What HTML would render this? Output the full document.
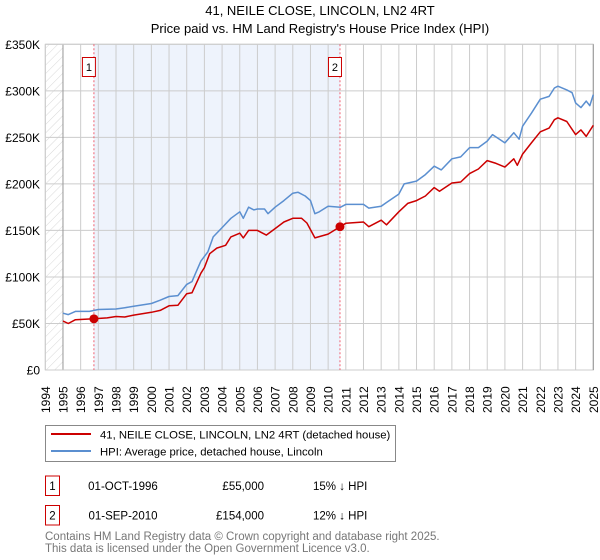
<!DOCTYPE html>
<html><head><meta charset="utf-8"><style>
body{margin:0;background:#fff;font-family:"Liberation Sans","DejaVu Sans",sans-serif;}
svg{display:block}
</style></head><body>
<svg id="chart" width="600" height="560" xmlns="http://www.w3.org/2000/svg">
<defs><pattern id="hatch" width="6" height="6" patternUnits="userSpaceOnUse" patternTransform="rotate(45)"><line x1="0" y1="0" x2="0" y2="6" stroke="#d8d8d8" stroke-width="1"/></pattern></defs>
<text x="320" y="15" text-anchor="middle" font-size="13">41, NEILE CLOSE, LINCOLN, LN2 4RT</text>
<text x="320" y="33" text-anchor="middle" font-size="13">Price paid vs. HM Land Registry's House Price Index (HPI)</text>
<g id="plot"></g>
<g>
<rect x="45.5" y="425.5" width="350" height="36" fill="#fff" stroke="#888"/>
<line x1="51" y1="434" x2="91" y2="434" stroke="#cc0000" stroke-width="2"/>
<text x="100" y="438.5" font-size="11.3">41, NEILE CLOSE, LINCOLN, LN2 4RT (detached house)</text>
<line x1="51" y1="451" x2="91" y2="451" stroke="#5b8fd0" stroke-width="2"/>
<text x="100" y="455.5" font-size="11.3">HPI: Average price, detached house, Lincoln</text>
</g>
<g font-size="11.5">
<rect x="45.5" y="476" width="14" height="19.5" fill="#fff" stroke="#cc0000"/>
<text x="52.5" y="490" text-anchor="middle">1</text>
<text x="123" y="490" text-anchor="middle">01-OCT-1996</text>
<text x="264" y="490" text-anchor="end">£55,000</text>
<text x="313" y="490">15% ↓ HPI</text>
<rect x="45.5" y="505.5" width="14" height="19.5" fill="#fff" stroke="#cc0000"/>
<text x="52.5" y="519.5" text-anchor="middle">2</text>
<text x="123" y="519.5" text-anchor="middle">01-SEP-2010</text>
<text x="264" y="519.5" text-anchor="end">£154,000</text>
<text x="313" y="519.5">12% ↓ HPI</text>
</g>
<text x="45" y="540" font-size="11.5" fill="#777">Contains HM Land Registry data © Crown copyright and database right 2025.</text>
<text x="45" y="552" font-size="11.5" fill="#777">This data is licensed under the Open Government Licence v3.0.</text>
</svg>
<script>
const yTicks=[0,50000,100000,150000,200000,250000,300000,350000];
const yTickLabels=["£0","£50K","£100K","£150K","£200K","£250K","£300K","£350K"];
const xYears=[1994,1995,1996,1997,1998,1999,2000,2001,2002,2003,2004,2005,2006,2007,2008,2009,2010,2011,2012,2013,2014,2015,2016,2017,2018,2019,2020,2021,2022,2023,2024,2025];
const hpiDates=[1995.0,1995.3,1995.7,1996.5,1997,1998,1998.5,1999,2000,2000.5,2001,2001.5,2002,2002.3,2002.5,2002.8,2003.2,2003.5,2004,2004.5,2005,2005.2,2005.5,2005.8,2006,2006.4,2006.6,2007,2007.5,2008,2008.3,2008.7,2009,2009.25,2009.5,2010,2010.7,2011,2012,2012.3,2013,2013.3,2014,2014.3,2015,2015.5,2016,2016.4,2017,2017.5,2018,2018.5,2019,2019.3,2020,2020.5,2020.8,2021,2021.5,2022,2022.5,2022.8,2023,2023.5,2023.8,2024,2024.3,2024.6,2024.8,2025];
const hpiValues=[61,59.5,63,63,65,65.5,67,68.5,71.5,75,79,80,92,95,104,117,127,143,153,163,170,163,175,172,173,173,168,175,182,190,191,187,182,168,170,176,175,178,178,174,176,180,189,200,203,210,219,215,227,229,239,239,246,253,244,255,248,262,276,291,294,303,305,301,298,287,282,289,284,296];
const propDates=[1995.0,1995.3,1995.7,1996.75,1997.5,1998,1998.5,1999,2000,2000.5,2001,2001.5,2002,2002.3,2002.8,2003,2003.3,2003.7,2004.2,2004.5,2005,2005.2,2005.5,2006,2006.5,2007,2007.5,2008,2008.5,2008.8,2009.25,2010,2010.67,2011,2012,2012.3,2013,2013.3,2014,2014.5,2015,2015.5,2016,2016.3,2017,2017.5,2018,2018.5,2019,2019.5,2020,2020.5,2020.7,2021,2021.5,2022,2022.5,2022.8,2023,2023.5,2024,2024.3,2024.6,2025];
const propValues=[52.6,50,54,55,56,57.5,57,59,62,64,69,69.5,82,83,104,110,125,131,134,143,147,142,150,150,145,152,159,163,163,158,142,146,154,157.6,159,154,161,156,170,179,182,187,196,192,201,202,211,216,225,222,218,227,220,232,244,256,260,269,271,267,253,258,251,263];
const saleDates=[1996.75,2010.67];
const salePrices=[55000,154000];
const saleLabels=["1","2"];

const X0=45.3,X1=593.3,Y0=370,Y1=44.3;
const xS=t=>X0+(t-1994)/(2025-1994)*(X1-X0);
const yS=v=>Y0-v/350000*(Y0-Y1);
const NS="http://www.w3.org/2000/svg";
const g=document.getElementById('plot');
function mk(tag,attrs,parent){const e=document.createElementNS(NS,tag);for(const k in attrs)e.setAttribute(k,attrs[k]);(parent||g).appendChild(e);return e;}

let e;
e=mk('rect',{x:xS(saleDates[0]),y:Y1,width:xS(saleDates[1])-xS(saleDates[0]),height:Y0-Y1,fill:'#eef3fc'});


e=mk('rect',{x:X0,y:Y1,width:xS(1995)-X0,height:Y0-Y1,fill:'url(#hatch)'});


yTicks.forEach((v,i)=>{
  e=mk('line',{x1:X0,x2:X1,y1:yS(v),y2:yS(v),stroke:'#ccc','stroke-width':1});
  
  
  e=mk('text',{x:40,y:yS(v)+4.5,'text-anchor':'end','font-size':12});
  e.textContent=yTickLabels[i];
  
  
});
xYears.forEach(yr=>{
  e=mk('line',{x1:xS(yr),x2:xS(yr),y1:Y1,y2:Y0,stroke:'#ccc','stroke-width':1});
  
  
  const x=xS(yr)+4.5;
  e=mk('text',{x:x,y:413,'font-size':12,transform:`rotate(-90 ${x} 413)`});
  e.textContent=String(yr);
  
  
});
e=mk('line',{x1:xS(1995),x2:xS(1995),y1:Y1,y2:Y0,stroke:'#999','stroke-width':1});


e=mk('rect',{x:X0,y:Y1,width:X1-X0,height:Y0-Y1,fill:'none',stroke:'#ccc'});


e=mk('line',{x1:X1,x2:X1,y1:Y1,y2:Y0,stroke:'#999'});



saleDates.forEach((d,i)=>{
  e=mk('line',{x1:xS(d),x2:xS(d),y1:Y1,y2:Y0,stroke:'#f06070','stroke-width':1,'stroke-dasharray':'2,2'});
  
  
  e=mk('rect',{x:xS(d)-11.5,y:57.5,width:13,height:19,fill:'#fff',stroke:'#cc0000'});
  
  
  e=mk('text',{x:xS(d)-5,y:71,'text-anchor':'middle','font-size':11});
  e.textContent=saleLabels[i];
  
  
});

function line(dates,vals,color){
  const p=dates.map((d,i)=>(i?'L':'M')+xS(d).toFixed(1)+','+yS(vals[i]*1000).toFixed(1)).join('');
  return mk('path',{d:p,fill:'none',stroke:color,'stroke-width':1.5,'stroke-linejoin':'round'});
}
e=line(hpiDates,hpiValues,'#5b8fd0');


e=line(propDates,propValues,'#cc0000');


saleDates.forEach((d,i)=>{
  e=mk('circle',{cx:xS(d),cy:yS(salePrices[i]),r:4.5,fill:'#cc0000'});
  
  
});
</script>
</body></html>
